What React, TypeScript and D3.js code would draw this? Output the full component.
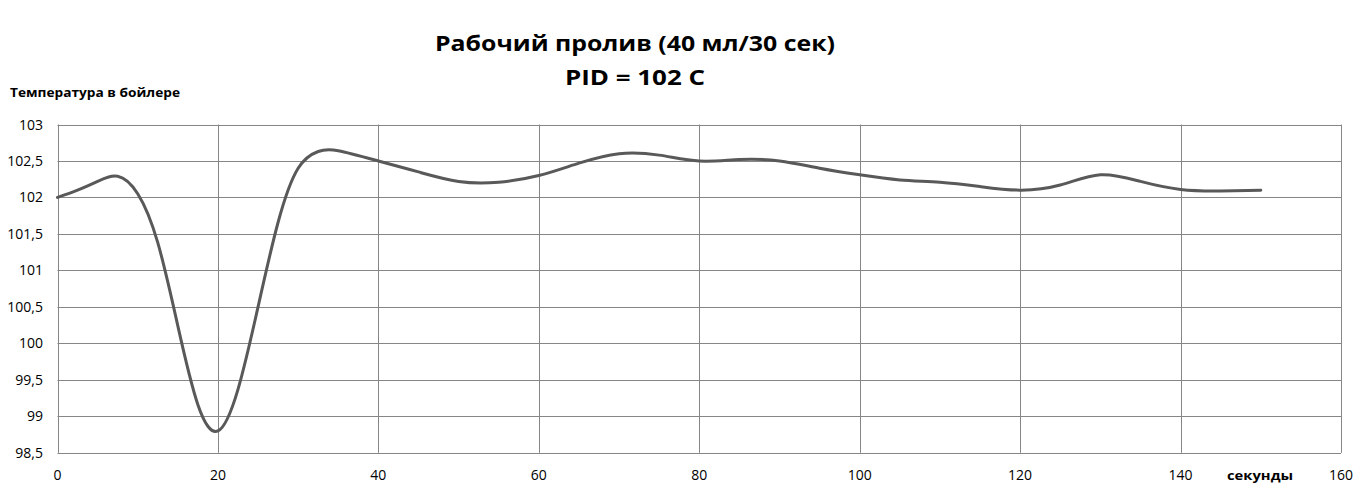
import React from "react";
import * as d3 from "d3";

const seconds = [0, 2.5, 5, 7.5, 10, 12.5, 15, 17.5, 20, 22.5, 25, 27.5, 30, 32.5, 35, 40, 45, 50, 55, 60, 65, 70, 75, 80, 85, 90, 95, 100, 105, 110, 115, 120, 125, 130, 135, 140, 145, 150];
const temperature = [102, 102.1, 102.22, 102.29, 102.05, 101.38, 100.24, 99.16, 98.8, 99.37, 100.5, 101.66, 102.4, 102.63, 102.64, 102.5, 102.35, 102.22, 102.21, 102.3, 102.47, 102.6, 102.58, 102.5, 102.52, 102.5, 102.4, 102.31, 102.24, 102.21, 102.15, 102.1, 102.17, 102.31, 102.22, 102.11, 102.09, 102.1];
const xTicks = [0, 20, 40, 60, 80, 100, 120, 140, 160];
const yTicks = [98.5, 99, 99.5, 100, 100.5, 101, 101.5, 102, 102.5, 103];
const titleLines = ["Рабочий пролив (40 мл/30 сек)", "PID = 102 C"];
const yAxisTitle = "Температура в бойлере";
const xAxisTitle = "секунды";

export default function App() {
  const W = 1365, H = 493;
  const x = d3.scaleLinear().domain([0, 160]).range([57.5, 1341]);
  const y = d3.scaleLinear().domain([98.5, 103]).range([452.8, 124.5]);
  const pts: [number, number][] = seconds.map((s, i) => [s, temperature[i]]);
  const line = d3.line<[number, number]>()
    .x(d => x(d[0]))
    .y(d => y(d[1]))
    .curve(d3.curveNatural);
  const fmt = (v: number) => String(v).replace(".", ",");
  const font = "'Open Sans', 'Liberation Sans', sans-serif";
  return (
    <svg width={W} height={H} style={{ position: "absolute", left: 0, top: 0, background: "#fff" }} fontFamily={font}>
      <rect x={0} y={0} width={W} height={H} fill="#fff" />
      {yTicks.map(t => (
        <line key={"gy" + t} x1={x(0)} x2={x(160)} y1={Math.round(y(t)) + 0.5} y2={Math.round(y(t)) + 0.5} stroke="#868686" strokeWidth={1} />
      ))}
      {xTicks.map(t => (
        <line key={"gx" + t} x1={Math.round(x(t)) + 0.5} x2={Math.round(x(t)) + 0.5} y1={y(103)} y2={y(98.5)} stroke="#868686" strokeWidth={1} />
      ))}
      <path d={line(pts) || ""} fill="none" stroke="#595959" strokeWidth={3} strokeLinejoin="round" strokeLinecap="round" />
      {yTicks.map(t => (
        <text key={"ly" + t} x={43} y={y(t) + 5} textAnchor="end" fontSize={14} fill="#000">{fmt(t)}</text>
      ))}
      {xTicks.map(t => (
        <text key={"lx" + t} x={x(t)} y={480} textAnchor="middle" fontSize={14} fill="#000">{t}</text>
      ))}
      <text x={635} y={51} textAnchor="middle" fontSize={21} fontWeight="bold" fill="#000" textLength={400} lengthAdjust="spacingAndGlyphs">{titleLines[0]}</text>
      <text x={635} y={85} textAnchor="middle" fontSize={21} fontWeight="bold" fill="#000" textLength={140} lengthAdjust="spacingAndGlyphs">{titleLines[1]}</text>
      <text x={10} y={97} fontSize={12.5} fontWeight="bold" fill="#000" textLength={170} lengthAdjust="spacingAndGlyphs">{yAxisTitle}</text>
      <text x={1227} y={480} fontSize={12.5} fontWeight="bold" fill="#000" textLength={66} lengthAdjust="spacingAndGlyphs">{xAxisTitle}</text>
    </svg>
  );
}
